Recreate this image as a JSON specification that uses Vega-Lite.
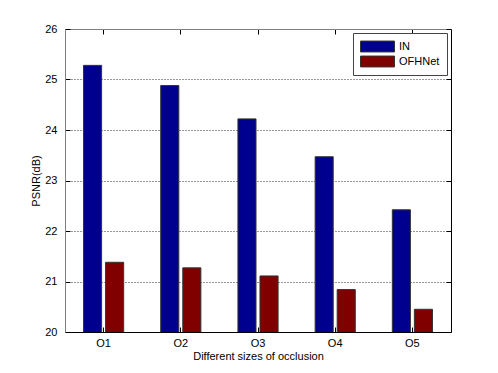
{
  "$schema": "https://vega.github.io/schema/vega-lite/v6.json",
  "width": 386,
  "height": 303,
  "autosize": "none",
  "padding": {"left": 65, "top": 29, "right": 47, "bottom": 41},
  "background": "white",
  "config": {
    "view": {"stroke": null},
    "font": "Liberation Sans",
    "axis": {
      "labelFont": "Liberation Sans",
      "titleFont": "Liberation Sans",
      "labelFontSize": 11,
      "titleFontSize": 11,
      "titleFontWeight": "normal",
      "labelColor": "#000000",
      "titleColor": "#000000",
      "tickColor": "#000000",
      "tickSize": -5
    }
  },
  "data": {
    "values": [
      {"occ": "O1", "method": "IN", "psnr": 25.28},
      {"occ": "O1", "method": "OFHNet", "psnr": 21.38},
      {"occ": "O2", "method": "IN", "psnr": 24.88},
      {"occ": "O2", "method": "OFHNet", "psnr": 21.27},
      {"occ": "O3", "method": "IN", "psnr": 24.22},
      {"occ": "O3", "method": "OFHNet", "psnr": 21.11},
      {"occ": "O4", "method": "IN", "psnr": 23.47},
      {"occ": "O4", "method": "OFHNet", "psnr": 20.84},
      {"occ": "O5", "method": "IN", "psnr": 22.42},
      {"occ": "O5", "method": "OFHNet", "psnr": 20.45}
    ]
  },
  "layer": [
    {
      "mark": {"type": "bar", "stroke": "#333333", "strokeWidth": 1, "clip": true},
      "encoding": {
        "x": {
          "field": "occ",
          "type": "nominal",
          "sort": ["O1", "O2", "O3", "O4", "O5"],
          "scale": {"paddingInner": 0.48, "paddingOuter": 0.24},
          "axis": {
            "orient": "bottom",
            "title": "Different sizes of occlusion",
            "labelAngle": 0,
            "domainColor": "#000000",
            "labelPadding": 10,
            "titlePadding": 2
          }
        },
        "xOffset": {
          "field": "method",
          "type": "nominal",
          "sort": ["IN", "OFHNet"],
          "scale": {"paddingInner": 0.18}
        },
        "y": {
          "field": "psnr",
          "type": "quantitative",
          "scale": {"domain": [20, 26], "nice": false, "zero": false},
          "axis": {
            "orient": "left",
            "title": "PSNR(dB)",
            "values": [20, 21, 22, 23, 24, 25, 26],
            "grid": true,
            "gridDash": [1, 2],
            "gridColor": "#333333",
            "gridOpacity": 1,
            "domainColor": "#808080",
            "labelPadding": 13,
            "titlePadding": 3
          }
        },
        "color": {
          "field": "method",
          "type": "nominal",
          "sort": ["IN", "OFHNet"],
          "scale": {"range": ["#00008F", "#800000"]},
          "legend": {
            "title": null,
            "orient": "top-right",
            "offset": 4,
            "padding": 7,
            "strokeColor": "#444444",
            "fillColor": "white",
            "symbolType": "M-1,-0.32H1V0.32H-1Z",
            "symbolSize": 1156,
            "symbolStrokeColor": "#333333",
            "symbolStrokeWidth": 1,
            "symbolOpacity": 1,
            "clipHeight": 13,
            "rowPadding": 2,
            "labelOffset": 4,
            "labelFont": "Liberation Sans",
            "labelFontSize": 11,
            "labelColor": "#000000"
          }
        }
      }
    },
    {
      "mark": {"type": "bar", "opacity": 0},
      "encoding": {
        "x": {
          "field": "occ",
          "type": "nominal",
          "sort": ["O1", "O2", "O3", "O4", "O5"],
          "axis": {"orient": "top", "labels": false, "title": null, "grid": false, "domainColor": "#808080"}
        },
        "y": {
          "field": "psnr",
          "type": "quantitative",
          "axis": {"orient": "right", "labels": false, "title": null, "grid": false, "domainColor": "#000000", "values": [20, 21, 22, 23, 24, 25, 26]}
        }
      }
    }
  ],
  "resolve": {"axis": {"x": "independent", "y": "independent"}}
}
